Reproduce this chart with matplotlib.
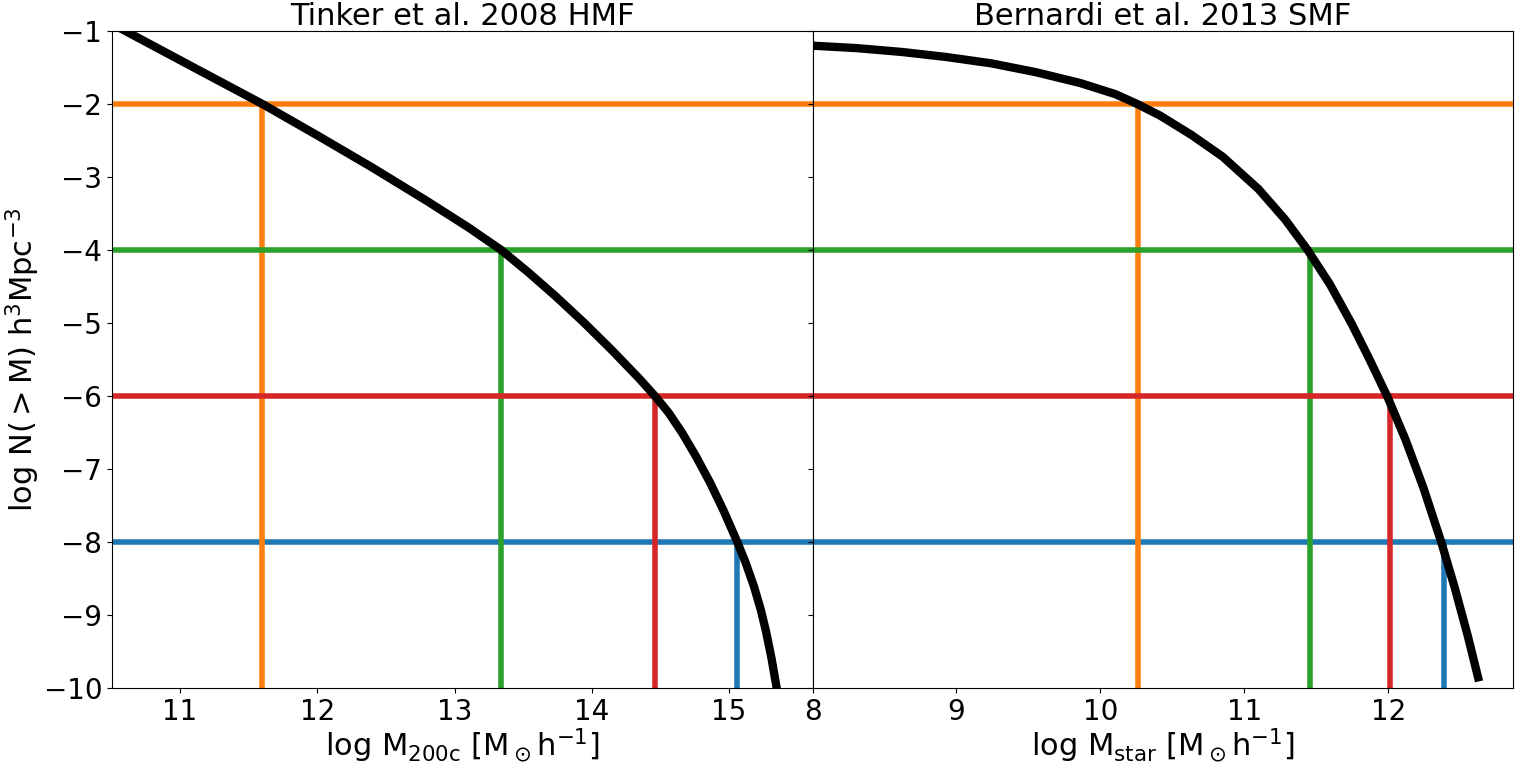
import matplotlib
matplotlib.use("Agg")
import matplotlib.pyplot as plt

# Threshold levels (log N) and colours
levels = [-8, -2, -4, -6]
level_colors = ["tab:blue", "tab:orange", "tab:green", "tab:red"]

# Left panel: Tinker et al. 2008 HMF (cumulative)
hmf_logm = [10.40, 10.602, 11.10, 11.60, 12.00, 12.40, 12.80, 13.10, 13.34, 13.54,
            13.74, 13.94, 14.14, 14.34, 14.46, 14.56, 14.66, 14.76, 14.86, 14.96,
            15.06, 15.12, 15.18, 15.23, 15.27, 15.31, 15.347, 15.36]
hmf_logn = [-0.80, -1.000, -1.50, -2.00, -2.43, -2.87, -3.33, -3.69, -4.00, -4.31,
            -4.64, -4.99, -5.36, -5.75, -6.00, -6.23, -6.51, -6.83, -7.18, -7.57,
            -8.00, -8.28, -8.60, -8.92, -9.23, -9.60, -10.0, -10.15]
hmf_cross = [15.06, 11.60, 13.34, 14.46]

# Right panel: Bernardi et al. 2013 SMF (cumulative)
smf_logm = [7.95, 8.000, 8.310, 8.620, 8.929, 9.239, 9.549, 9.859, 10.107, 10.255,
            10.416, 10.633, 10.850, 11.098, 11.284, 11.439, 11.594, 11.748, 11.872,
            11.996, 12.120, 12.244, 12.368, 12.461, 12.554, 12.631]
smf_logn = [-1.196, -1.201, -1.235, -1.287, -1.356, -1.442, -1.563, -1.712, -1.867, -1.999,
            -2.160, -2.424, -2.722, -3.164, -3.583, -3.997, -4.467, -5.018, -5.506,
            -6.017, -6.597, -7.254, -7.998, -8.618, -9.295, -9.909]
smf_cross = [12.39, 10.26, 11.455, 12.01]

fig, (ax1, ax2) = plt.subplots(1, 2, figsize=(15.16, 7.64), dpi=100, sharey=True)
fig.subplots_adjust(left=112/1516, right=1513/1516, top=1-31/764, bottom=1-688/764, wspace=0)

ymin = -10
for ax, xs, ys, cross in [(ax1, hmf_logm, hmf_logn, hmf_cross), (ax2, smf_logm, smf_logn, smf_cross)]:
    for lev, c, xc in zip(levels, level_colors, cross):
        ax.axhline(lev, color=c, lw=4)
        ax.plot([xc, xc], [ymin, lev], color=c, lw=4)
    ax.plot(xs, ys, color="black", lw=6, solid_capstyle="butt", solid_joinstyle="round")
    ax.tick_params(labelsize=20)

ax1.set_ylim(-10, -1)
ax1.set_xlim(10.504, 15.608)
ax2.set_xlim(8, 12.867)
ax1.set_xticks([11, 12, 13, 14, 15])
ax2.set_xticks([8, 9, 10, 11, 12])
ax1.set_yticks(range(-10, 0))

ax1.set_title("Tinker et al. 2008 HMF", fontsize=22, pad=2.5)
ax2.set_title("Bernardi et al. 2013 SMF", fontsize=22, pad=2.5)
ax1.set_xlabel(r"log M$_{\rm 200c}$ [M$_\odot$h$^{-1}$]", fontsize=22, labelpad=0.5)
ax2.set_xlabel(r"log M$_{\rm star}$ [M$_\odot$h$^{-1}$]", fontsize=22, labelpad=0.5)
ax1.set_ylabel(r"log N$(>$M) h$^3$Mpc$^{-3}$", fontsize=22, labelpad=1)

fig.savefig("out.png", dpi=100)
